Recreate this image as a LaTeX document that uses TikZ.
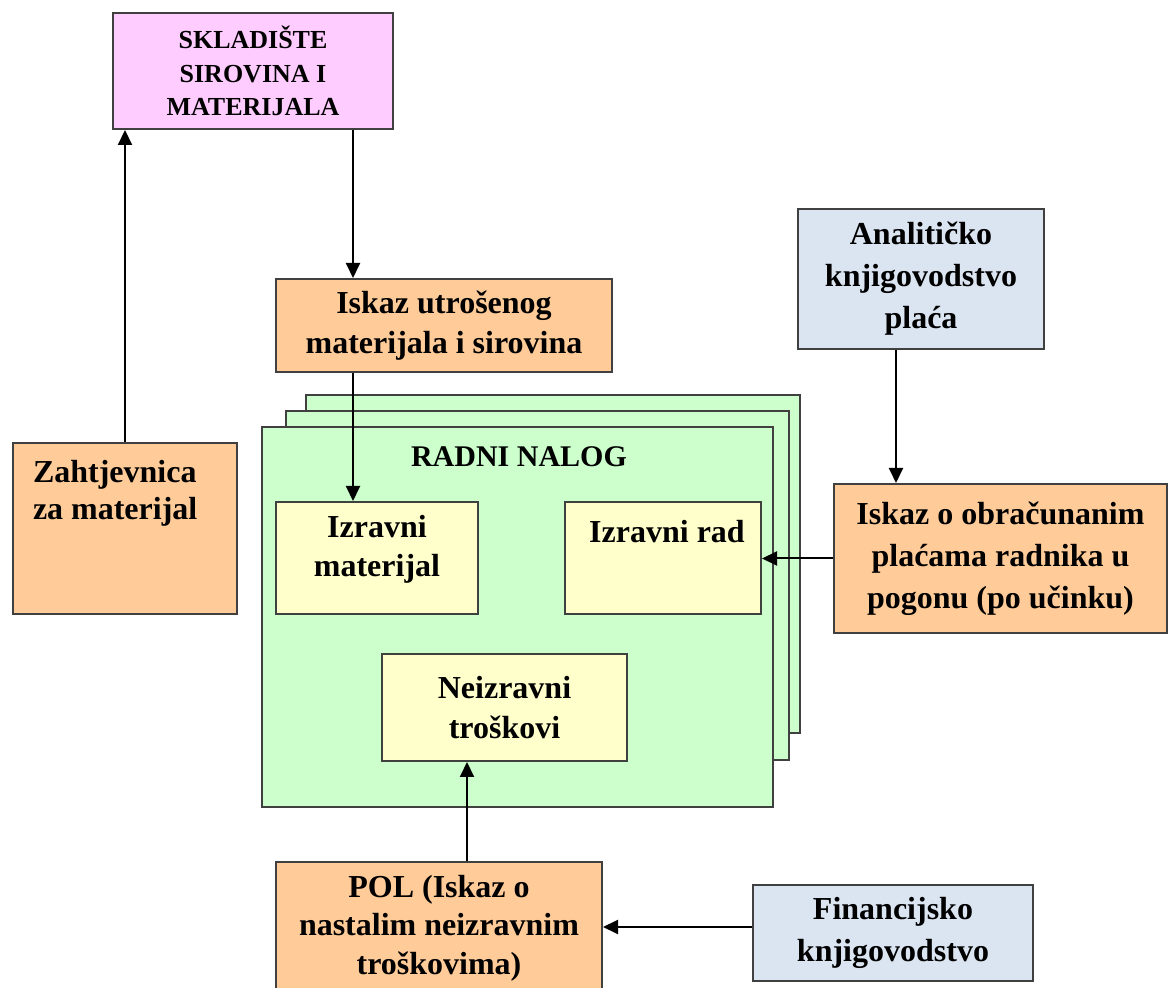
\documentclass[tikz,border=0pt]{standalone}
\usepackage{fontspec}
\setmainfont{Liberation Serif}
\usetikzlibrary{arrows.meta,positioning,calc}
\definecolor{boxline}{HTML}{404040}
\definecolor{pinkbox}{HTML}{FFCCFF}
\definecolor{orangebox}{HTML}{FFCC99}
\definecolor{bluebox}{HTML}{DBE5F1}
\definecolor{greenbox}{HTML}{CCFFCC}
\definecolor{yellowbox}{HTML}{FFFFCC}

\begin{document}
\begin{tikzpicture}[x=0.5pt, y=-0.5pt,
    box/.style={draw=boxline, line width=1pt, inner sep=0pt, align=center,
      font=\bfseries\fontsize{16}{20}\selectfont},
    nalog/.style={draw=boxline, line width=1pt, fill=greenbox, inner sep=0pt},
    arr/.style={-{Triangle[length=7.5pt,width=7pt]}, line width=1pt}]
    \path[use as bounding box] (0,0) rectangle (1168,988);
    \clip (0,0) rectangle (1168,988);

    % Storage
    \node[box, fill=pinkbox, minimum width=140pt, minimum height=58pt,
      font=\bfseries\fontsize{13}{16.75}\selectfont] (sklad) at (253,71) {SKLADIŠTE\\SIROVINA I\\MATERIJALA};

    % Material issue
    \node[box, fill=orangebox, minimum width=168pt, minimum height=46.5pt] (iskazmat) at (444,325.5) {Iskaz utrošenog\\materijala i sirovina};

    % Payroll
    \node[box, fill=bluebox, minimum width=123pt, minimum height=70pt,
      font=\bfseries\fontsize{16}{21}\selectfont] (anal) at (921,279) {Analitičko\\knjigovodstvo\\plaća};
    \node[box, fill=orangebox, minimum width=166.5pt, minimum height=74.5pt,
      font=\bfseries\fontsize{16}{21}\selectfont] (iskazrad) at (1000.5,558.5) {Iskaz o obračunanim\\plaćama radnika u\\pogonu (po učinku)};

    % Requisition
    \node[box, fill=orangebox, minimum width=112pt, minimum height=85.5pt] (zahtj) at (125,528.5)
      {\parbox[c][85.5pt][t]{112pt}{\raggedright\leftskip=10pt\fontsize{16}{18.5}\selectfont
       \rule{0pt}{20pt}Zahtjevnica\\za materijal}};

    % Work order (stacked sheets)
    \node[nalog, minimum width=247pt, minimum height=169pt] (nalogc) at (553,564) {};
    \node[nalog, minimum width=251.5pt, minimum height=174.5pt] (nalogb) at (537.5,585.5) {};
    \node[nalog, minimum width=255.5pt, minimum height=190pt] (naloga) at (517.5,617) {};
    \node[anchor=base, font=\bfseries\fontsize{15}{18}\selectfont] (radni) at (519,467) {RADNI NALOG};

    \node[box, fill=yellowbox, minimum width=101pt, minimum height=56pt] (izmat) at (377,558)
      {\parbox[c][56pt][t]{101pt}{\centering\fontsize{16}{19.5}\selectfont
       \rule{0pt}{18pt}Izravni\\materijal}};
    \node[box, fill=yellowbox, minimum width=98pt, minimum height=56pt] (izrad) at (663,558)
      {\parbox[c][56pt][t]{98pt}{\centering\hspace*{4pt}\rule{0pt}{20.5pt}Izravni rad}};
    \node[box, fill=yellowbox, minimum width=122.5pt, minimum height=53.5pt] (neizr) at (504.5,707.5) {Neizravni\\troškovi};

    % Overheads
    \node[box, fill=orangebox, minimum width=163pt, minimum height=66pt,
      font=\bfseries\fontsize{16}{19.25}\selectfont] (pol) at (439,928) {POL (Iskaz o\\nastalim neizravnim\\troškovima)};
    \node[box, fill=bluebox, minimum width=140pt, minimum height=48pt,
      font=\bfseries\fontsize{16}{21}\selectfont] (finan) at (893,933) {Financijsko\\knjigovodstvo};

    % Connectors
    \coordinate (matx) at (353,0);
    \coordinate (radx) at (896,0);
    \coordinate (polx) at (467,0);
    \coordinate (finy) at (0,927);
    \draw[arr] (zahtj.north) -- (zahtj.north |- sklad.south);
    \draw[arr] (sklad.south -| matx) -- (iskazmat.north -| matx);
    \draw[arr] (iskazmat.south -| matx) -- (izmat.north -| matx);
    \draw[arr] (anal.south -| radx) -- (iskazrad.north -| radx);
    \draw[arr] (iskazrad.west) -- (iskazrad.west -| izrad.east);
    \draw[arr] (pol.north -| polx) -- (neizr.south -| polx);
    \draw[arr] (finan.west |- finy) -- (pol.east |- finy);
\end{tikzpicture}
\end{document}
